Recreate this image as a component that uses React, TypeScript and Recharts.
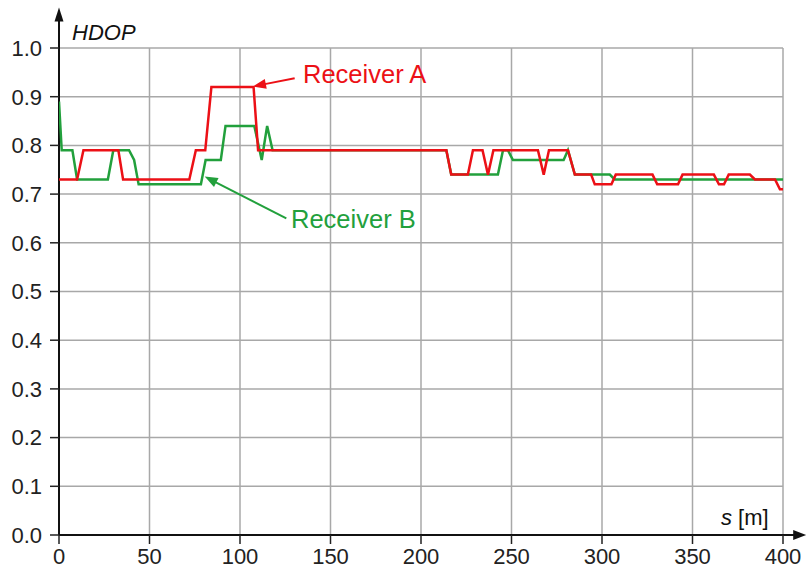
import * as React from 'react';
import { LineChart, Line, XAxis, YAxis, CartesianGrid, ReferenceLine } from 'recharts';

// Receiver A (red): distance s [m] and HDOP
const distA = [
  0, 10, 13.5, 32.8, 35.4, 72, 75.6, 80.8, 84.2, 107.5, 110, 214, 216.7, 225.9, 228.7, 234, 237, 240,
  264.6, 267.8, 270.7, 281.2, 285, 294, 296, 305.2, 307.6, 327.9, 330.5, 342, 344.5, 361.8, 364.6,
  367.4, 370, 381.7, 384.5, 395.6, 398.3, 400,
];
const hdopA = [
  0.73, 0.73, 0.79, 0.79, 0.73, 0.73, 0.79, 0.79, 0.92, 0.92, 0.79, 0.79, 0.74, 0.74, 0.79, 0.79, 0.74, 0.79,
  0.79, 0.74, 0.79, 0.79, 0.74, 0.74, 0.72, 0.72, 0.74, 0.74, 0.72, 0.72, 0.74, 0.74, 0.72,
  0.72, 0.74, 0.74, 0.73, 0.73, 0.71, 0.71,
];

// Receiver B (green)
const distB = [
  0, 1.5, 7.4, 10, 27, 30, 38.7, 41.5, 44, 78.4, 81, 89.4, 92, 107.9, 112, 115, 118, 214, 216.7,
  242.5, 245.3, 248, 250.8, 278.8, 281.2, 285, 304.3, 307, 400,
];
const hdopB = [
  0.89, 0.79, 0.79, 0.73, 0.73, 0.79, 0.79, 0.77, 0.72, 0.72, 0.77, 0.77, 0.84, 0.84, 0.77, 0.84, 0.79, 0.79, 0.74,
  0.74, 0.79, 0.79, 0.77, 0.77, 0.79, 0.74, 0.74, 0.73, 0.73,
];

const xTicks = [0, 50, 100, 150, 200, 250, 300, 350, 400];
const yTicks = [0, 0.1, 0.2, 0.3, 0.4, 0.5, 0.6, 0.7, 0.8, 0.9, 1.0];

const RED = '#ec1016';
const GREEN = '#22a03c';
const FONT = '"Liberation Sans", Arial, sans-serif';

const dataA = distA.map((s, i) => ({ s, hdop: hdopA[i] }));
const dataB = distB.map((s, i) => ({ s, hdop: hdopB[i] }));

// line with a filled arrow head at (x2, y2)
function ArrowLine(props: any) {
  const { x1, y1, x2, y2, color, width, head, headW } = props;
  if ([x1, y1, x2, y2].some((v) => v == null || isNaN(v))) return null;
  const dx = x2 - x1;
  const dy = y2 - y1;
  const len = Math.sqrt(dx * dx + dy * dy) || 1;
  const ux = dx / len;
  const uy = dy / len;
  const bx = x2 - ux * head;
  const by = y2 - uy * head;
  const px = -uy * (headW / 2);
  const py = ux * (headW / 2);
  return (
    <g>
      <line x1={x1} y1={y1} x2={bx + ux} y2={by + uy} stroke={color} strokeWidth={width} />
      <polygon points={`${x2},${y2} ${bx + px},${by + py} ${bx - px},${by - py}`} fill={color} />
    </g>
  );
}

export default function App() {
  return (
    <div style={{ position: 'absolute', left: 0, top: 0 }}>
      <LineChart
        width={808}
        height={569}
        margin={{ top: 48, right: 25, left: 0, bottom: 0 }}
        style={{ fontFamily: FONT }}
      >
        <CartesianGrid stroke="#a8a8a8" strokeWidth={1.5} />
        <XAxis
          type="number"
          dataKey="s"
          domain={[0, 400]}
          ticks={xTicks}
          interval={0}
          allowDataOverflow
          height={34}
          tickSize={9}
          tickMargin={4}
          axisLine={false}
          tickLine={{ stroke: '#222', strokeWidth: 1.5 }}
          tick={{ fontSize: 22, fill: '#222', fontFamily: FONT }}
        />
        <YAxis
          type="number"
          domain={[0, 1]}
          ticks={yTicks}
          interval={0}
          width={59}
          tickSize={9}
          tickMargin={8}
          axisLine={false}
          tickLine={{ stroke: '#222', strokeWidth: 1.5 }}
          tick={{ fontSize: 22, fill: '#222', fontFamily: FONT }}
          tickFormatter={(v: number) => v.toFixed(1)}
        />
        <ReferenceLine
          segment={[{ x: 0, y: 0 }, { x: 412.8, y: 0 }]}
          ifOverflow="visible"
          shape={(p: any) => <ArrowLine {...p} color="#111" width={2} head={13} headW={10} />}
        />
        <ReferenceLine
          segment={[{ x: 0, y: 0 }, { x: 0, y: 1.083 }]}
          ifOverflow="visible"
          shape={(p: any) => <ArrowLine {...p} color="#111" width={2} head={14} headW={9} />}
        />
        <Line
          data={dataB}
          dataKey="hdop"
          type="linear"
          stroke={GREEN}
          strokeWidth={2.5}
          dot={false}
          isAnimationActive={false}
        />
        <Line
          data={dataA}
          dataKey="hdop"
          type="linear"
          stroke={RED}
          strokeWidth={2.5}
          dot={false}
          isAnimationActive={false}
        />
        <ReferenceLine
          segment={[{ x: 130.2, y: 0.938 }, { x: 107.2, y: 0.921 }]}
          ifOverflow="visible"
          shape={(p: any) => <ArrowLine {...p} color={RED} width={2} head={13} headW={10} />}
        />
        <ReferenceLine
          segment={[{ x: 125.6, y: 0.65 }, { x: 80.5, y: 0.736 }]}
          ifOverflow="visible"
          shape={(p: any) => <ArrowLine {...p} color={GREEN} width={2} head={13} headW={10} />}
        />
        <text x={72} y={40} fontSize={22} fontStyle="italic" fill="#111" fontFamily={FONT}>
          HDOP
        </text>
        <text x={721} y={525} fontSize={22} fill="#111" fontFamily={FONT}>
          <tspan fontStyle="italic">s</tspan> [m]
        </text>
        <text x={303} y={83} fontSize={25.5} fill={RED} fontFamily={FONT}>
          Receiver A
        </text>
        <text x={291} y={228} fontSize={25.5} fill={GREEN} fontFamily={FONT}>
          Receiver B
        </text>
      </LineChart>
    </div>
  );
}
